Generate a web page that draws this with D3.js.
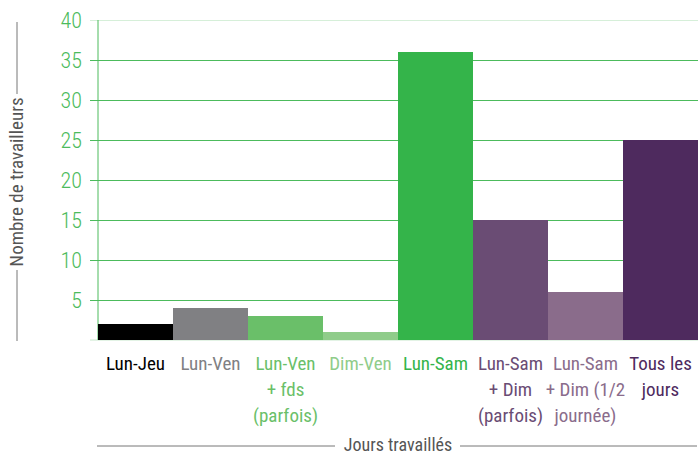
<!DOCTYPE html>
<html>
<head>
<meta charset="utf-8">
<script src="https://cdn.jsdelivr.net/npm/d3@7"></script>
<style>
  body { margin: 0; background: #fff; }
  text { font-family: 'Roboto Condensed', 'Roboto', sans-serif; font-stretch: condensed; }
</style>
</head>
<body>
<div id="chart"></div>
<script>
// Data
var categories = [
  ['Lun-Jeu'],
  ['Lun-Ven'],
  ['Lun-Ven', '+ fds', '(parfois)'],
  ['Dim-Ven'],
  ['Lun-Sam'],
  ['Lun-Sam', '+ Dim', '(parfois)'],
  ['Lun-Sam', '+ Dim (1/2', 'journée)'],
  ['Tous les', 'jours']
]
var values = [2, 4, 3, 1, 36, 15, 6, 25]
var colors = ['#000000', '#808083', '#6abf69', '#8fcc8a', '#34b44a', '#6a4c74', '#8a6c8b', '#4e2a5e']
var yTicks = [5, 10, 15, 20, 25, 30, 35, 40]

var margin = { top: 20, left: 98, right: 0, bottom: 114 }
var width = 698 - margin.left - margin.right
var height = 454 - margin.top - margin.bottom

var svg = d3.select('#chart')
  .append('svg')
  .attr('width', 698)
  .attr('height', 454)

var g = svg.append('g')
  .attr('transform', `translate(${margin.left}, ${margin.top})`)

var xPositionScale = d3.scaleBand()
  .domain(d3.range(categories.length))
  .range([0, width])
  .padding(0)

var yPositionScale = d3.scaleLinear()
  .domain([0, 40])
  .range([height, 0])

// grid lines + ticks
var yAxis = d3.axisLeft(yPositionScale)
  .tickValues(yTicks)
  .tickSize(-width)
  .tickPadding(16)
g.append('g')
  .attr('class', 'axis y-axis')
  .call(yAxis)
  .call(s => s.select('.domain').remove())
  .call(s => s.selectAll('.tick line')
    .attr('x1', -8)
    .attr('stroke', d => d === 40 ? '#d6efd9' : '#4cbb5c')
    .attr('stroke-width', 1.2))
  .call(s => s.selectAll('.tick text')
    .attr('fill', '#4cbb5c')
    .attr('font-weight', 300)
    .attr('font-size', 22))

// baseline tick
g.append('line')
  .attr('x1', -8).attr('x2', width)
  .attr('y1', yPositionScale(0)).attr('y2', yPositionScale(0))
  .attr('stroke', '#c8e8cc')

// axis line
g.append('line')
  .attr('x1', 0).attr('x2', 0)
  .attr('y1', 0).attr('y2', height)
  .attr('stroke', '#4cbb5c')

// bars
g.selectAll('.bar')
  .data(values)
  .enter()
  .append('rect')
  .attr('class', 'bar')
  .attr('x', (d, i) => xPositionScale(i))
  .attr('width', xPositionScale.bandwidth())
  .attr('y', d => yPositionScale(d))
  .attr('height', d => height - yPositionScale(d))
  .attr('fill', (d, i) => colors[i])

// category labels
g.selectAll('.cat')
  .data(categories)
  .enter()
  .append('text')
  .attr('class', 'cat')
  .attr('text-anchor', 'middle')
  .attr('font-size', 19)
  .attr('fill', (d, i) => colors[i])
  .each(function(d, i) {
    d3.select(this).selectAll('tspan')
      .data(d)
      .enter()
      .append('tspan')
      .attr('x', xPositionScale(i) + xPositionScale.bandwidth() / 2)
      .attr('y', (t, j) => height + 30 + j * 26)
      .text(t => t)
  })

// x title
var xTitleY = 446
svg.append('text')
  .attr('x', margin.left + width / 2)
  .attr('y', xTitleY + 5)
  .attr('text-anchor', 'middle')
  .attr('font-size', 18)
  .attr('fill', '#555')
  .text('Jours travaillés')
svg.append('line')
  .attr('x1', 97).attr('x2', 335)
  .attr('y1', xTitleY).attr('y2', xTitleY)
  .attr('stroke', '#777')
svg.append('line')
  .attr('x1', 460).attr('x2', 697)
  .attr('y1', xTitleY).attr('y2', xTitleY)
  .attr('stroke', '#777')

// y title
var yTitleX = 17
svg.append('text')
  .attr('transform', `translate(${yTitleX + 6}, 182) rotate(-90)`)
  .attr('text-anchor', 'middle')
  .attr('font-size', 19)
  .attr('fill', '#555')
  .text('Nombre de travailleurs')
svg.append('line')
  .attr('x1', yTitleX).attr('x2', yTitleX)
  .attr('y1', 22).attr('y2', 94)
  .attr('stroke', '#777')
svg.append('line')
  .attr('x1', yTitleX).attr('x2', yTitleX)
  .attr('y1', 270).attr('y2', 341)
  .attr('stroke', '#777')
</script>
</body>
</html>
